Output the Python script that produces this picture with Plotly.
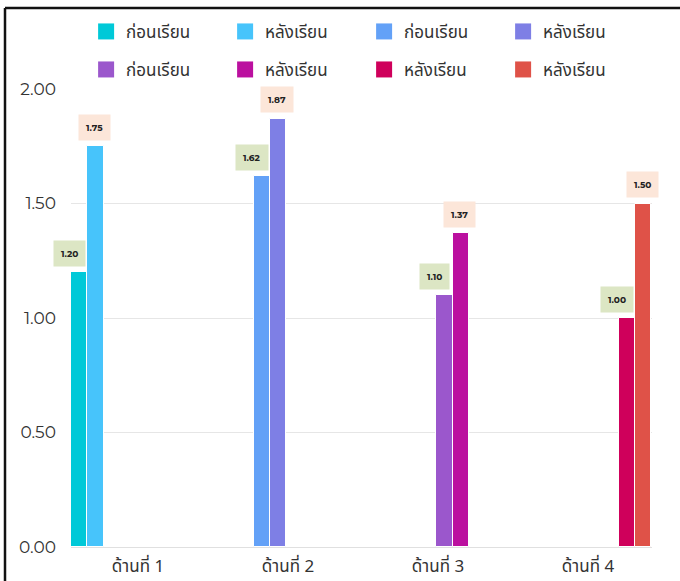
import plotly.graph_objects as go

categories = ["ด้านที่ 1", "ด้านที่ 2", "ด้านที่ 3", "ด้านที่ 4"]
series_names = ["ก่อนเรียน", "หลังเรียน", "ก่อนเรียน", "หลังเรียน",
                "ก่อนเรียน", "หลังเรียน", "หลังเรียน", "หลังเรียน"]
series_values = [
    [1.20, None, None, None],
    [1.75, None, None, None],
    [None, 1.62, None, None],
    [None, 1.87, None, None],
    [None, None, 1.10, None],
    [None, None, 1.37, None],
    [None, None, None, 1.00],
    [None, None, None, 1.50],
]
colors = ["#00C9D8", "#47C4FB", "#63A1F7", "#7E7FE5",
          "#9B57CC", "#BB109F", "#CF005B", "#DF5248"]
label_bg = ["#DCE6C4", "#FCE6D9"]
yticks = [0, 0.5, 1.0, 1.5, 2.0]

W, H = 680, 581
ml, mr, mt, mb = 71, 28, 89, 34
pw = W - ml - mr
ph = H - mt - mb
px_per_unit = 150.0
x_left = (ml - 138) / px_per_unit
x_right = x_left + pw / px_per_unit
slot_w = 16.3 / px_per_unit
n = len(series_names)
group_start = x_left  # category 0 center at 0

font_th = "Noto Sans Thai, Kanit, Prompt, Noto Sans, DejaVu Sans, sans-serif"

fig = go.Figure()
annotations = []
xpos = list(range(len(categories)))
for k in range(n):
    off = group_start + k * slot_w
    fig.add_trace(go.Bar(
        x=xpos, y=series_values[k], name=series_names[k],
        marker=dict(color=colors[k], line=dict(color="white", width=1)),
        width=slot_w, offset=off, showlegend=False,
    ))
    fig.add_trace(go.Scatter(
        x=[None], y=[None], mode="markers", name=series_names[k],
        marker=dict(symbol="square", size=22, color=colors[k]),
        showlegend=True, legend="legend" if k < 4 else "legend2",
    ))
    for i, v in enumerate(series_values[k]):
        if v is None:
            continue
        annotations.append(dict(
            x=i + off + slot_w / 2, y=v, xref="x", yref="y",
            text="<b>%.2f</b>" % v, showarrow=False,
            font=dict(size=9, color="#222", family="Montserrat, Lato, sans-serif"),
            bgcolor=label_bg[k % 2], borderpad=7,
            yshift=19, xshift=-10 if k % 2 == 0 else -1,
        ))

legend_common = dict(
    orientation="h", xanchor="left", yanchor="top",
    entrywidth=94, entrywidthmode="pixels",
    font=dict(family=font_th, size=17, color="#333"),
    itemwidth=30, bgcolor="rgba(0,0,0,0)",
)

fig.update_layout(
    width=W, height=H,
    margin=dict(l=ml, r=mr, t=mt, b=mb, autoexpand=False),
    plot_bgcolor="white", paper_bgcolor="white",
    barmode="overlay",
    bargap=0,
    showlegend=True,
    legend=dict(x=0.026, y=1.164, **legend_common),
    legend2=dict(x=0.026, y=1.081, **legend_common),
    annotations=annotations,
    xaxis=dict(
        range=[x_left, x_right], tickmode="array", tickvals=xpos,
        ticktext=categories, showgrid=False, zeroline=False, showline=False,
        ticks="", tickfont=dict(family=font_th, size=17, color="#333"),
        ticklabelstandoff=7, automargin=False,
    ),
    yaxis=dict(
        range=[0, 2], tickmode="array", tickvals=yticks, tickformat=".2f",
        showgrid=True, gridcolor="#E6E6E6", gridwidth=1,
        zeroline=True, zerolinecolor="#E0E0E0", zerolinewidth=1,
        showline=False, ticks="", automargin=False,
        tickfont=dict(family="Montserrat, Lato, Open Sans, sans-serif", size=17, color="#333"),
        ticklabelstandoff=14,
    ),
    shapes=[
        dict(type="line", xref="paper", yref="paper",
             x0=(5 - ml) / pw, x1=(W + 5 - ml) / pw,
             y0=(H - mb - 8) / ph, y1=(H - mb - 8) / ph,
             line=dict(color="#111", width=2.5)),
        dict(type="line", xref="paper", yref="paper",
             x0=(5 - ml) / pw, x1=(5 - ml) / pw,
             y0=(H - mb - 8) / ph, y1=-mb / ph - 0.05,
             line=dict(color="#111", width=2.5)),
    ],
)

fig.write_html("out.html")
